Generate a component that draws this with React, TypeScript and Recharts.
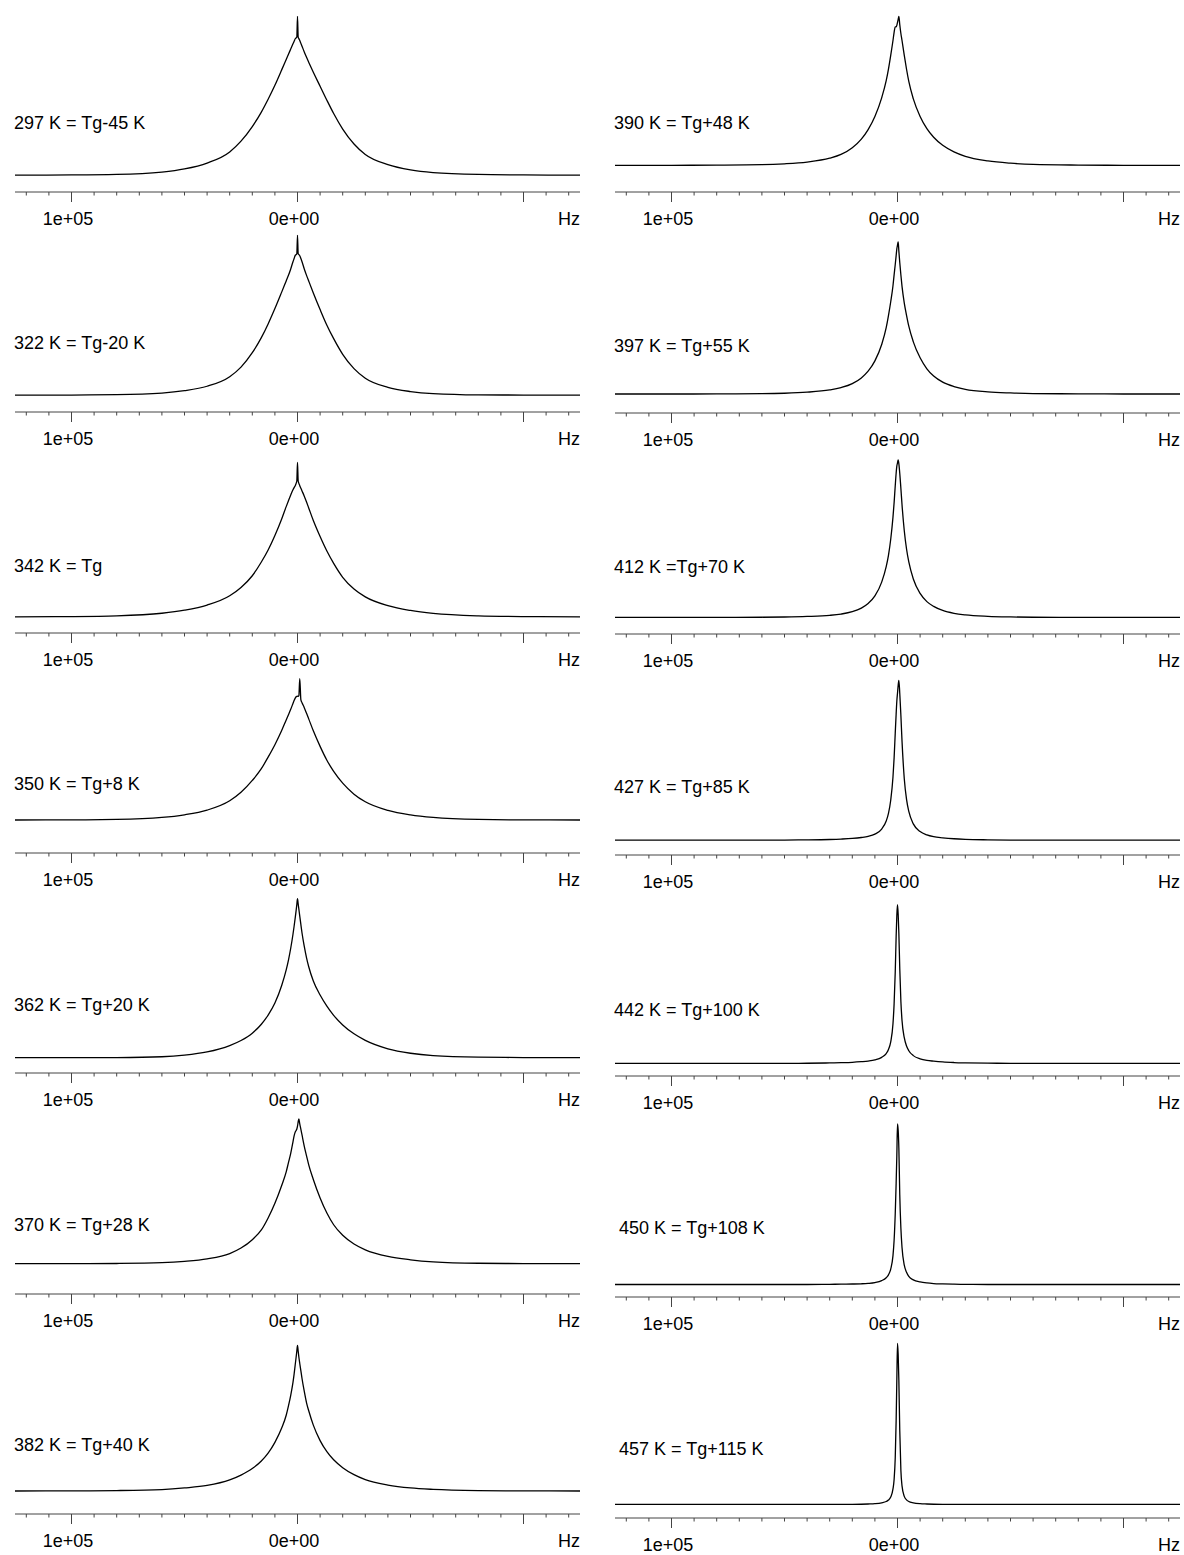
import React from 'react';
import { LineChart, Line, XAxis, YAxis } from 'recharts';

// shared frequency grid (Hz), left (+) to right (-)
const freqHz = [
  125000, 100000, 80000, 60000, 50000, 40000, 30000, 25000, 20000, 16000, 13000,
  10000, 7000, 5000, 4000, 3000, 2000, 1500, 1000, 600, 300, 0,
  -300, -600, -1000, -1500, -2000, -3000, -4000, -5000, -7000, -10000, -13000,
  -16000, -20000, -25000, -30000, -40000, -50000, -60000, -80000, -100000, -125000,
];

// line intensities (peak ~ 100)
const s297 = [0, 0.1, 0.4, 1.9, 3.9, 7.6, 14.6, 21.4, 30.6, 39.7, 47.8, 56.6, 66.3, 72.9, 76.2, 79.4, 82.7, 84.3, 85.9, 86.5, 87, 100, 87, 86, 84.8, 83, 81.2, 77.6, 74.2, 71, 64.8, 56, 47.2, 38.8, 29.0, 19.6, 13.0, 6.6, 3.3, 1.6, 0.4, 0.1, 0];
const s322 = [0, 0.1, 0.3, 1.3, 2.8, 5.6, 11.6, 17.6, 26.6, 36.0, 44.6, 54.2, 64.5, 71.5, 75, 79, 83.5, 85.5, 87.5, 88, 88.5, 100, 88.5, 88, 87.3, 85.5, 83.5, 79, 75, 71.3, 64, 53.6, 43.8, 35.4, 25.6, 16.6, 10.6, 4.9, 2.3, 1.0, 0.2, 0.1, 0];
const s342 = [0, 0.15, 0.6, 2.3, 4.3, 7.6, 13.6, 19.0, 26.6, 35.5, 43.3, 52.7, 63.4, 71.4, 75.2, 78.9, 82.3, 83.7, 85, 86.5, 88, 100, 88, 86.5, 85, 83.3, 81.6, 78.2, 74.4, 70.4, 62.4, 52.0, 42.6, 34.6, 25.6, 18.0, 12.9, 7.2, 4.1, 2.2, 0.6, 0.15, 0];
const s350 = [0, 0.1, 0.4, 1.8, 3.7, 7.0, 13.6, 19.6, 28.0, 36.3, 44.5, 53.3, 63.3, 70.8, 74.5, 78.3, 82.5, 84.6, 86.3, 87.2, 87.5, 87.6, 87.5, 88, 100, 85, 83, 79.5, 75.5, 71.4, 63.1, 52.1, 42.3, 34.4, 26.1, 18.3, 12.9, 6.8, 3.6, 1.8, 0.4, 0.1, 0];
const s362 = [0, 0, 0.1, 0.6, 1.6, 3.6, 7.6, 10.8, 15.4, 21.0, 26.8, 34.4, 45.4, 55.2, 61.4, 68.8, 77.6, 82.6, 88.0, 92.6, 96.2, 100, 96.7, 93.4, 89, 83.6, 78.4, 70.0, 62.8, 57.0, 48.2, 39.4, 32.4, 26.6, 20.6, 15.0, 10.9, 5.6, 2.8, 1.3, 0.3, 0.1, 0];
const s370 = [0, 0, 0.15, 0.7, 1.6, 3.3, 7.0, 10.8, 16.6, 23.3, 31.6, 41.7, 54.0, 63.4, 69.8, 76.2, 84.2, 88.3, 91, 92, 93, 95, 98, 100, 96.5, 92.8, 88.9, 81.1, 74.5, 68.1, 58.2, 45.4, 35.0, 26.9, 19.6, 13.6, 9.6, 5.0, 2.7, 1.3, 0.3, 0.1, 0];
const s382 = [0, 0.1, 0.3, 1.0, 2.1, 3.8, 7.6, 10.9, 15.4, 20.6, 26.0, 33.4, 43.2, 52.0, 58.4, 65.7, 74.5, 80.2, 86.8, 92, 96, 100, 96, 92, 87.5, 82.4, 77.2, 68.3, 60.5, 54.9, 45.2, 34.6, 27.0, 21.4, 16.0, 11.2, 7.8, 4.1, 2.1, 1.1, 0.3, 0.1, 0];
const s390 = [0, 0, 0.1, 0.4, 1.0, 2.2, 4.8, 7.3, 11.8, 17.6, 24.0, 32.8, 45.3, 56.8, 64.6, 73.8, 83.8, 89.3, 93, 93, 94, 96, 98, 100, 94.5, 88.5, 83.8, 73.8, 64.5, 56.3, 44.6, 32.8, 24.6, 18.8, 13.4, 9.0, 6.0, 2.9, 1.4, 0.6, 0.15, 0, 0];
const s397 = [0, 0, 0.05, 0.2, 0.5, 1.2, 2.7, 4.2, 6.8, 10.6, 15.0, 21.8, 32.6, 43.6, 51.6, 60.7, 71.2, 78.4, 85.2, 91, 95.5, 98, 100, 94, 86.5, 78.3, 70.8, 59.8, 51.8, 44.6, 34.3, 23.8, 16.6, 11.8, 7.8, 4.9, 3.1, 1.4, 0.7, 0.3, 0.1, 0, 0];
const s412 = [0, 0, 0, 0.1, 0.25, 0.6, 1.3, 2.1, 3.6, 5.9, 8.8, 13.6, 22.4, 32.2, 39.4, 49.6, 63.6, 72.8, 83.5, 91.5, 96, 98, 100, 97.5, 91.5, 81.8, 71.5, 55.0, 43.4, 35.2, 24.4, 15.2, 10.0, 7.0, 4.4, 2.6, 1.6, 0.7, 0.3, 0.1, 0, 0, 0];
const s427 = [0, 0, 0, 0, 0.1, 0.2, 0.45, 0.7, 1.1, 1.7, 2.4, 3.8, 7.0, 12.0, 16.8, 25.0, 39.5, 51.5, 67, 79, 87, 92, 97, 100, 92, 78, 62, 38.5, 25.5, 18.0, 10.2, 5.4, 3.3, 2.2, 1.5, 0.9, 0.55, 0.25, 0.1, 0, 0, 0, 0];
const s442 = [0, 0, 0, 0, 0, 0.1, 0.3, 0.45, 0.7, 1.1, 1.5, 2.2, 3.8, 6.2, 8.8, 13.6, 25.0, 37.5, 57.6, 80, 93, 100, 94, 82, 60, 39, 27, 16.2, 11.0, 8.0, 4.9, 2.9, 1.9, 1.4, 0.9, 0.55, 0.35, 0.15, 0.05, 0, 0, 0, 0];
const s450 = [0, 0, 0, 0, 0, 0, 0.1, 0.2, 0.3, 0.45, 0.7, 1.2, 2.4, 4.2, 6.0, 9.6, 18.0, 27.5, 44, 63, 80, 100, 96, 85, 56, 35, 23, 12, 7.6, 5.0, 2.9, 1.6, 0.95, 0.6, 0.4, 0.2, 0.1, 0, 0, 0, 0, 0, 0];
const s457 = [0, 0, 0, 0, 0, 0, 0, 0, 0, 0.1, 0.25, 0.45, 1.0, 1.8, 2.7, 4.6, 9.6, 15.5, 29, 52, 77, 100, 93, 77, 46, 21, 11.5, 5.0, 2.8, 1.8, 1.0, 0.45, 0.25, 0.1, 0, 0, 0, 0, 0, 0, 0, 0, 0];

const panelLabels = [
  '297 K = Tg-45 K', '322 K = Tg-20 K', '342 K = Tg', '350 K = Tg+8 K',
  '362 K = Tg+20 K', '370 K = Tg+28 K', '382 K = Tg+40 K',
  '390 K = Tg+48 K', '397 K = Tg+55 K', '412 K =Tg+70 K', '427 K = Tg+85 K',
  '442 K = Tg+100 K', '450 K = Tg+108 K', '457 K = Tg+115 K',
];
const panelSeries = [s297, s322, s342, s350, s362, s370, s382, s390, s397, s412, s427, s442, s450, s457];

const axisTicks = [
  120000, 110000, 100000, 90000, 80000, 70000, 60000, 50000, 40000, 30000, 20000, 10000, 0,
  -10000, -20000, -30000, -40000, -50000, -60000, -70000, -80000, -90000, -100000, -110000, -120000,
];
const majorTicks = [100000, 0, -100000];
const majorTickLabels = ['1e+05', '0e+00', ''];
const unitLabel = 'Hz';

// layout: column, panel top, gap from axis to baseline / to peak, label position
const layout = [
  { col: 0, top: 0, baseGap: 16.9, peakGap: 175.6, lx: 14, ly: 123 },
  { col: 0, top: 220, baseGap: 16.8, peakGap: 176.6, lx: 14, ly: 123 },
  { col: 0, top: 441, baseGap: 16.2, peakGap: 170.5, lx: 14, ly: 125 },
  { col: 0, top: 661, baseGap: 33, peakGap: 174.3, lx: 14, ly: 123 },
  { col: 0, top: 881, baseGap: 15.3, peakGap: 174.4, lx: 14, ly: 124 },
  { col: 0, top: 1102, baseGap: 30.3, peakGap: 175.1, lx: 14, ly: 123 },
  { col: 0, top: 1322, baseGap: 23, peakGap: 168.7, lx: 14, ly: 123 },
  { col: 1, top: 0, baseGap: 26.7, peakGap: 175.6, lx: 14, ly: 123 },
  { col: 1, top: 221, baseGap: 19, peakGap: 171, lx: 14, ly: 125 },
  { col: 1, top: 442, baseGap: 16.6, peakGap: 174.2, lx: 14, ly: 125 },
  { col: 1, top: 663, baseGap: 14.8, peakGap: 174.6, lx: 14, ly: 124 },
  { col: 1, top: 884, baseGap: 12.6, peakGap: 171.3, lx: 14, ly: 126 },
  { col: 1, top: 1105, baseGap: 12.5, peakGap: 173.2, lx: 19, ly: 123 },
  { col: 1, top: 1326, baseGap: 13.6, peakGap: 174.7, lx: 19, ly: 123 },
];

const FONT = '"Liberation Sans", Arial, Helvetica, sans-serif';
const PLOT_H = 192;
const AXIS_H = 40;
const CHART_W = 600;

const AxisTick = (props: any) => {
  const { x, y, payload } = props;
  const idx = majorTicks.indexOf(payload.value);
  const major = idx >= 0;
  return (
    <g>
      <line x1={x} x2={x} y1={y} y2={y + (major ? 10 : 3.5)} stroke="#444" strokeWidth={1} />
      {major && majorTickLabels[idx] ? (
        <text x={x - 3.5} y={y + 33} textAnchor="middle" fontFamily={FONT} fontSize={18} fill="#000">
          {majorTickLabels[idx]}
        </text>
      ) : null}
    </g>
  );
};

const Panel = ({ index }: { index: number }) => {
  const L = layout[index];
  const values = panelSeries[index];
  const data = freqHz.map((hz, i) => ({ hz, v: values[i] }));
  const span = (100 * PLOT_H) / (L.peakGap - L.baseGap);
  const lo = (-L.baseGap * span) / PLOT_H;
  const hi = lo + span;

  return (
    <div style={{ position: 'absolute', left: L.col * 600, top: L.top, width: CHART_W, height: PLOT_H + AXIS_H }}>
      <LineChart width={CHART_W} height={PLOT_H + AXIS_H} data={data} margin={{ top: 0, right: 20, bottom: 0, left: 15 }}>
        <XAxis
          dataKey="hz"
          type="number"
          domain={[-125000, 125000]}
          reversed
          allowDataOverflow
          ticks={axisTicks}
          interval={0}
          tick={<AxisTick />}
          tickLine={false}
          tickSize={0}
          tickMargin={0}
          axisLine={{ stroke: '#444', strokeWidth: 1 }}
          height={AXIS_H}
        />
        <YAxis hide type="number" domain={[lo, hi]} allowDataOverflow />
        <Line type="monotone" dataKey="v" stroke="#000" strokeWidth={1.3} dot={false} isAnimationActive={false} />
      </LineChart>
      <div
        style={{
          position: 'absolute', left: L.lx, top: L.ly - 8.8, fontFamily: FONT, fontSize: 18,
          lineHeight: '18px', whiteSpace: 'nowrap', color: '#000',
        }}
      >
        {panelLabels[index]}
      </div>
      <div
        style={{
          position: 'absolute', right: 20, top: PLOT_H + 33 - 15.2, fontFamily: FONT, fontSize: 18,
          lineHeight: '18px', whiteSpace: 'nowrap', color: '#000',
        }}
      >
        {unitLabel}
      </div>
    </div>
  );
};

export default function App() {
  return (
    <div style={{ position: 'absolute', left: 0, top: 0, width: 1184, height: 1555, background: '#fff' }}>
      {panelSeries.map((_, i) => (
        <Panel key={i} index={i} />
      ))}
    </div>
  );
}
